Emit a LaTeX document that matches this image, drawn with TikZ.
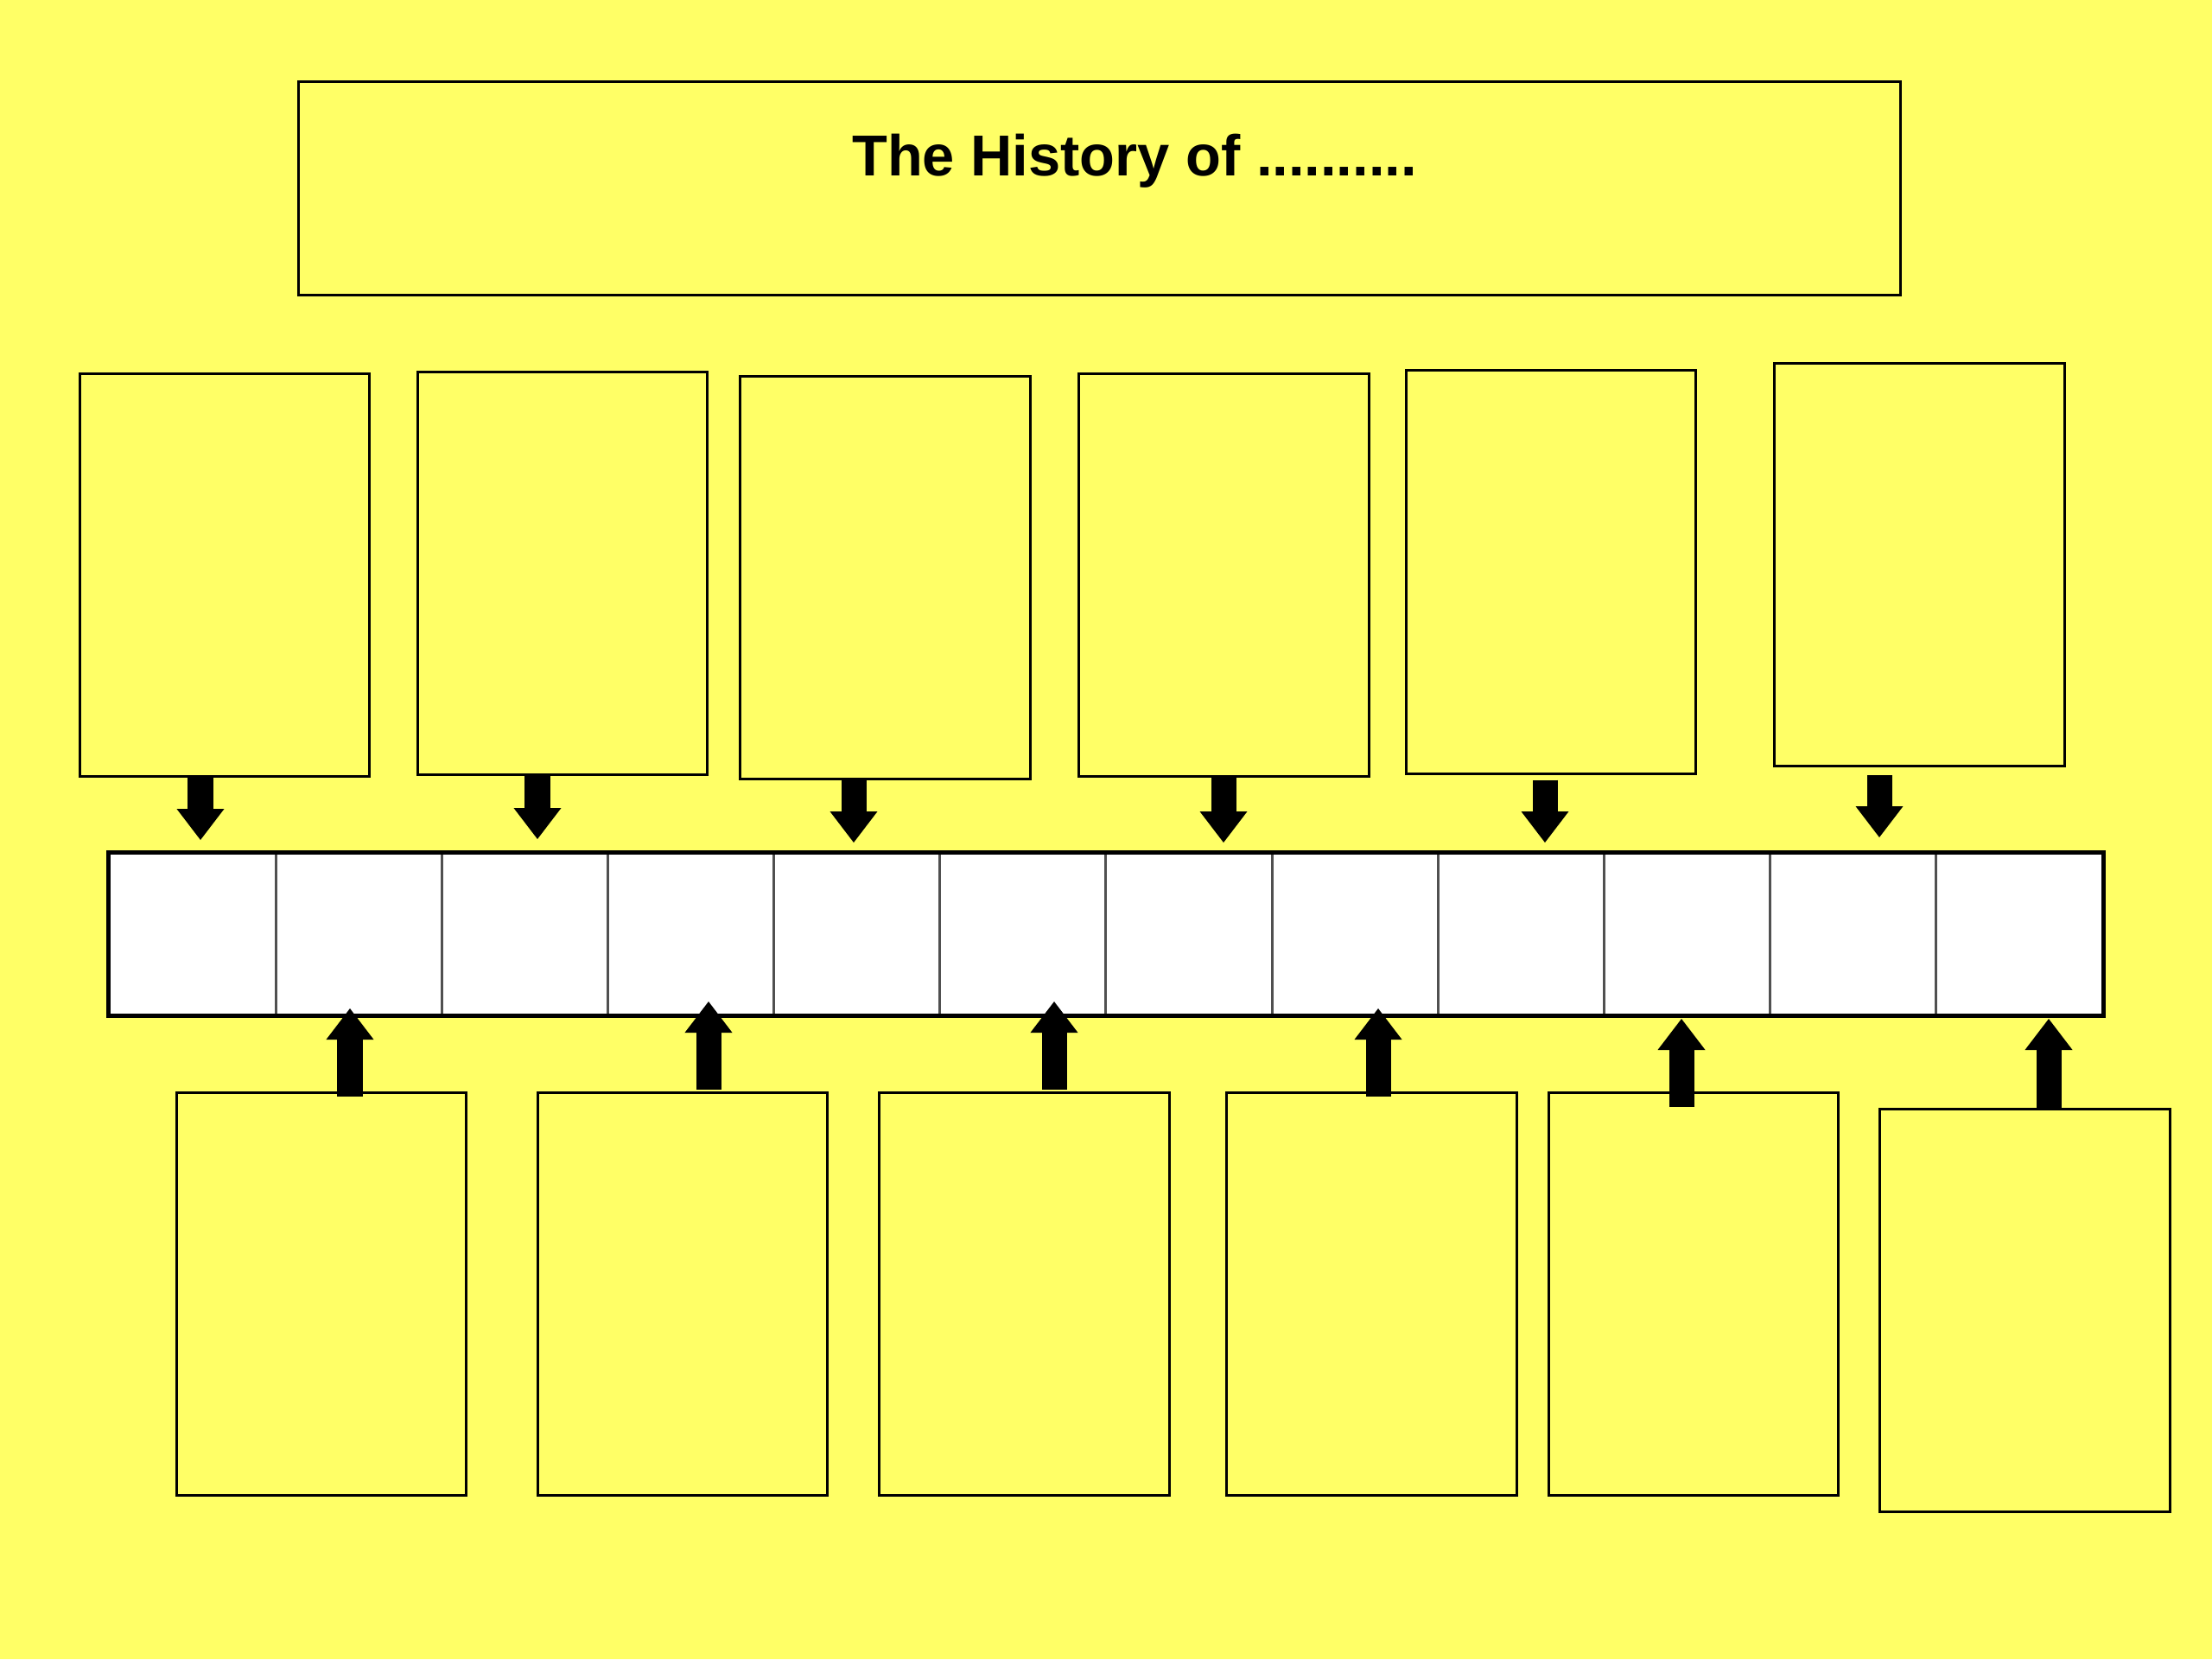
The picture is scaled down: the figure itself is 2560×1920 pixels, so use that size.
\documentclass[tikz,border=0pt]{standalone}
\usepackage{fontspec}
\setmainfont{Liberation Sans}
\usepackage{xcolor}
\usepackage{tikz}
\usetikzlibrary{arrows.meta, positioning}
\definecolor{pageyellow}{RGB}{255,255,102}
\definecolor{divgray}{RGB}{80,80,80}

\begin{document}
\begin{tikzpicture}[x=0.01cm, y=-0.01cm,
        heading/.style={rectangle, draw=black, line width=0.03cm, minimum width=18.53cm, minimum height=2.46cm, inner sep=0pt},
        headtext/.style={font=\fontsize{19pt}{23pt}\selectfont\bfseries, inner sep=0pt},
        event/.style={rectangle, draw=black, line width=0.03cm, minimum width=3.35cm, minimum height=4.66cm, inner sep=0pt},
        cell/.style={rectangle, draw=divgray, fill=white, line width=0.03cm, minimum width=1.9217cm, minimum height=1.86cm, inner sep=0pt},
        pointer/.style={line width=0.29cm, -{Triangle[width=0.55cm, length=0.36cm, line width=0pt]}}
    ]
        % Background
        \fill[pageyellow] (0,0) rectangle (2560,1920);
        \useasboundingbox (0,0) rectangle (2560,1920);

        % Title
        \node [heading] (title) at (1272.5,218) {};
        \node [headtext, anchor=base] (titletext) at (1313,203) {The History of ..........};

        % Timeline
        \foreach \i in {1,...,12}
            \node [cell] (cell\i) at ({127+192.17*(\i-0.5)},1081) {};
        \draw[line width=0.05cm] (cell1.north west) rectangle (cell12.south east);

        % Event boxes
        \foreach \i/\cx/\cy in {1/259.6/665.4, 2/650.7/663.7, 3/1024.5/668.5, 4/1416.5/665.4, 5/1795.3/662, 6/2221.5/653.8}
            \node [event] (top\i) at (\cx,\cy) {};
        \foreach \i/\cx/\cy in {1/372/1497.5, 2/790/1497.5, 3/1185.5/1497.5, 4/1587.5/1497.5, 5/1960/1497.5, 6/2343.5/1516.5}
            \node [event] (bot\i) at (\cx,\cy) {};

        % Connectors
        \foreach \i/\ax/\gap/\tip in {1/232/0/972, 2/622/0/971, 3/988/0/975, 4/1416/0/975, 5/1788/6/975, 6/2175/9/969} {
            \coordinate (downtip\i) at (\ax,\tip);
            \draw[pointer] ([yshift=-\gap*0.01cm]downtip\i |- top\i.south) -- (downtip\i);
        }
        \foreach \i/\ax/\over/\tip in {1/405/6/1167, 2/820/-2/1159, 3/1220/-2/1159, 4/1595/6/1167, 5/1946/18/1179, 6/2371/0/1179} {
            \coordinate (uptip\i) at (\ax,\tip);
            \draw[pointer] ([yshift=-\over*0.01cm]uptip\i |- bot\i.north) -- (uptip\i);
        }
    \end{tikzpicture}
\end{document}
